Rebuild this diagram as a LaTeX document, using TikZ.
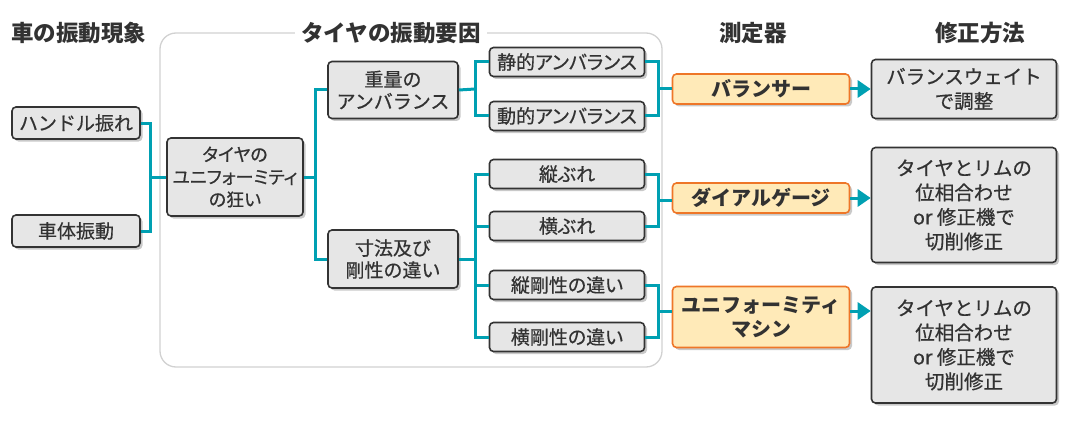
\documentclass[tikz,border=0pt]{standalone}
\usepackage{fontspec}
\setmainfont{Noto Sans CJK JP}
\newfontfamily\boxfont{Noto Sans CJK JP}[FakeBold=0.6]
\newfontfamily\boxpfont{Noto Sans CJK JP}[FakeBold=0.6,RawFeature=+palt]
\usetikzlibrary{arrows.meta,shadows}
\definecolor{linkteal}{RGB}{0,160,178}
\definecolor{boxgray}{RGB}{230,230,230}
\definecolor{meterfill}{RGB}{255,234,184}
\definecolor{meterline}{RGB}{238,118,40}
\definecolor{textgray}{RGB}{50,50,50}
\begin{document}
\begin{tikzpicture}[x=1pt,y=-1pt]

	\tikzset{
	  box/.style={
	    draw=black!80,
	    line width=1.6pt,
	    fill=boxgray,
	    rounded corners=4pt,
	    align=center,
	    inner sep=0pt,
	    text=textgray,
	    font=\boxfont\fontsize{19}{22}\selectfont,
	    drop shadow={shadow xshift=2.5pt,shadow yshift=-2.5pt,fill=black!30,opacity=0.7},
	  },
	  leaf/.style={
	    box,
	    minimum width=155pt,
	    minimum height=29pt,
	    font=\boxpfont\fontsize{19}{22}\selectfont,
	  },
	  meter/.style={
	    box,
	    draw=meterline,
	    fill=meterfill,
	    minimum width=177pt,
	    font=\fontsize{20}{24}\selectfont\bfseries,
	  },
	  fix/.style={
	    box,
	    minimum width=185pt,
	    font=\boxfont\fontsize{19.5}{24.5}\selectfont,
	  },
	  head/.style={
	    text=textgray,
	    inner sep=2pt,
	    font=\fontsize{22.5}{26}\selectfont\bfseries,
	  },
	  link/.style={draw=linkteal,line width=3pt},
	  arr/.style={link,-{Triangle[length=13pt,width=17pt]}},
	  frame/.style={draw=black!18,line width=1.3pt,rounded corners=16pt},
	}
	\useasboundingbox (0,0) rectangle (1080,428);

	\draw[frame] (160,33) rectangle (662,367);

	\node[head] (hcar) at (79,33) {車の振動現象};
	\node[head,fill=white,inner xsep=6pt] (htire) at (391,33) {タイヤの振動要因};
	\node[head] (hmeter) at (753,33) {測定器};
	\node[head] (hfix) at (980,33) {修正方法};

	\node[box,minimum width=128pt,minimum height=32pt] (handle) at (76,123) {ハンドル振れ};
	\node[box,minimum width=128pt,minimum height=32pt] (body) at (76,231) {車体振動};
	\node[box,minimum width=136pt,minimum height=78pt,font=\boxpfont\fontsize{18}{22.5}\selectfont] (tire) at (235,177) {タイヤの\\ユニフォーミティ\\の狂い};
	\node[box,minimum width=130pt,minimum height=57pt] (weight) at (393,90) {重量の\\アンバランス};
	\node[box,minimum width=130pt,minimum height=58pt] (size) at (393,259) {寸法及び\\剛性の違い};

	\node[leaf] (static) at (567,62) {静的アンバランス};
	\node[leaf] (dynamic) at (567,116) {動的アンバランス};
	\node[leaf] (radial) at (567,174) {縦ぶれ};
	\node[leaf] (lateral) at (567,226) {横ぶれ};
	\node[leaf] (radstiff) at (567,285) {縦剛性の違い};
	\node[leaf] (latstiff) at (567,337) {横剛性の違い};

	\node[meter,minimum height=30pt] (balancer) at (761,89) {バランサー};
	\node[meter,minimum height=30pt] (dial) at (761,198) {ダイアルゲージ};
	\node[meter,minimum height=61pt] (machine) at (761,317) {ユニフォーミティ\\マシン};

	\node[fix,minimum height=59pt] (fixweight) at (964,89) {バランスウェイト\\で調整};
	\node[fix,minimum height=115pt] (fixdial) at (964,205) {タイヤとリムの\\位相合わせ\\or 修正機で\\切削修正};
	\node[fix,minimum height=116pt] (fixmachine) at (964,345) {タイヤとリムの\\位相合わせ\\or 修正機で\\切削修正};

	\coordinate (j1) at (150,177);
	\coordinate (j2) at (315,177);
	\coordinate (j3) at (475,89);
	\coordinate (j4) at (475,259);
	\coordinate (j5) at (658,89);
	\coordinate (j6) at (658,200);
	\coordinate (j7) at (658,311);

	\draw[link] (handle.east) -| (j1) |- (body.east);
	\draw[link] (j1) -- (tire.west);
	\draw[link] (weight.west) -| (j2) |- (size.west);
	\draw[link] (tire.east) -- (j2);
	\draw[link] (static.west) -| (j3) |- (dynamic.west);
	\draw[link] (weight.east) -- (j3);
	\draw[link] (radial.west) -| (j4) |- (latstiff.west);
	\draw[link] (lateral.west) -- (lateral.west -| j4);
	\draw[link] (radstiff.west) -- (radstiff.west -| j4);
	\draw[link] (size.east) -- (j4);

	\draw[link] (static.east) -| (j5) |- (dynamic.east);
	\draw[link] (j5) -- (balancer.west);
	\draw[link] (radial.east) -| (j6) |- (lateral.east);
	\draw[link] (j6) -- (j6 -| dial.west);
	\draw[link] (radstiff.east) -| (j7) |- (latstiff.east);
	\draw[link] (j7) -- (j7 -| machine.west);

	\draw[arr] (balancer.east) -- (fixweight.west);
	\draw[arr] (dial.east) -- (dial.east -| fixdial.west);
	\draw[arr] (machine.east |- j7) -- (j7 -| fixmachine.west);

\end{tikzpicture}
\end{document}
